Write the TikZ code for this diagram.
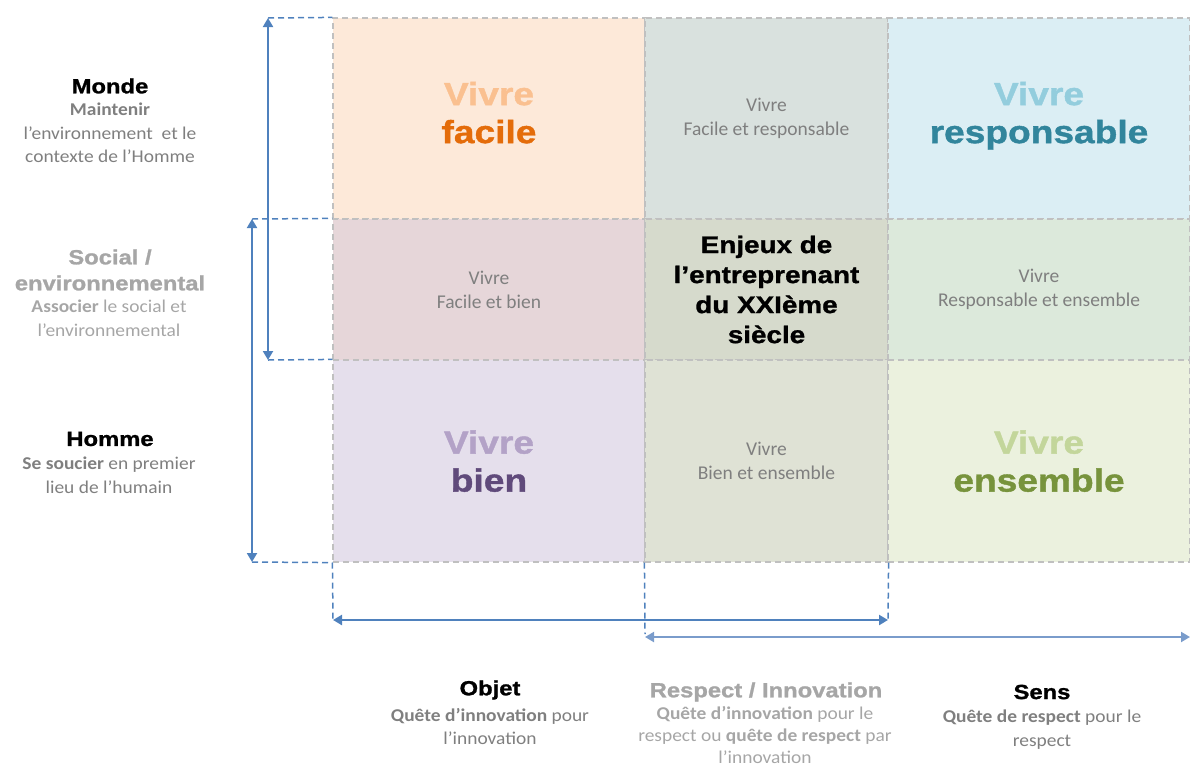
\documentclass[tikz,border=0pt]{standalone}
\usepackage{fontspec}
\setmainfont{Carlito}
\newfontfamily\heavyfont[FakeStretch=1.16, BoldFeatures={FakeBold=1.2}]{Liberation Sans}
\newfontfamily\descfont[FakeStretch=1.08]{Carlito}
\usetikzlibrary{arrows.meta,positioning}

\definecolor{axisblue}{HTML}{4F81BD}
\definecolor{axisbluelight}{HTML}{7A9CCB}
\definecolor{gridgray}{HTML}{C0C0C0}
\definecolor{txtgray}{HTML}{7F7F7F}
\definecolor{txtlight}{HTML}{A6A6A6}
% cell fills
\definecolor{facilefill}{HTML}{FDE9D9}
\definecolor{frfill}{HTML}{D9E1DE}
\definecolor{respfill}{HTML}{DBEEF4}
\definecolor{fbfill}{HTML}{E6D6D9}
\definecolor{enjeuxfill}{HTML}{D6DACC}
\definecolor{refill}{HTML}{DCE9DB}
\definecolor{bienfill}{HTML}{E5DFEC}
\definecolor{befill}{HTML}{DFE2D5}
\definecolor{ensfill}{HTML}{EBF1DE}
% big words
\definecolor{facilelight}{HTML}{FAC090}
\definecolor{faciledark}{HTML}{E46C0A}
\definecolor{resplight}{HTML}{93CDDD}
\definecolor{respdark}{HTML}{31859C}
\definecolor{bienlight}{HTML}{B3A2C7}
\definecolor{biendark}{HTML}{604A7B}
\definecolor{enslight}{HTML}{C3D69B}
\definecolor{ensdark}{HTML}{77933C}

\tikzset{
  cellbox/.style={draw=gridgray, line width=1.2pt, dash pattern=on 6pt off 4pt,
    inner sep=0pt, align=center, text=txtgray, font=\fontsize{19.5}{24}\selectfont},
  bigcell/.style={cellbox, text depth=12pt, font=\heavyfont\bfseries\fontsize{32}{38}\selectfont},
  headlabel/.style={inner sep=0pt, align=center, font=\heavyfont\bfseries\fontsize{20.5}{26}\selectfont},
  desclabel/.style={inner sep=0pt, align=center, anchor=north, font=\descfont\fontsize{18}{23.5}\selectfont},
  axisline/.style={axisblue, line width=2pt, {Triangle[length=9pt,width=10pt]}-{Triangle[length=9pt,width=10pt]}},
  guideline/.style={axisblue, line width=1.5pt, dash pattern=on 6pt off 4pt}
}

\begin{document}
\begin{tikzpicture}[x=1pt,y=-1pt]
\useasboundingbox (0,0) rectangle (1190,769);

% grid of cells
\node[bigcell, fill=facilefill, minimum width=312pt, minimum height=201pt] (c11) at (489,118.5)
  {\textcolor{facilelight}{Vivre}\\\textcolor{faciledark}{facile}};
\node[cellbox, fill=frfill, minimum width=243pt, minimum height=201pt] (c12) at (766.5,118.5)
  {Vivre\\Facile et responsable};
\node[bigcell, fill=respfill, minimum width=302pt, minimum height=201pt] (c13) at (1039,118.5)
  {\textcolor{resplight}{Vivre}\\\textcolor{respdark}{responsable}};
\node[cellbox, fill=fbfill, minimum width=312pt, minimum height=141pt] (c21) at (489,289.5)
  {Vivre\\Facile et bien};
\node[cellbox, fill=enjeuxfill, minimum width=243pt, minimum height=141pt, text=black,
  font=\heavyfont\bfseries\fontsize{24}{30}\selectfont] (c22) at (766.5,289.5)
  {Enjeux de\\l’entreprenant\\du XXIème\\siècle};
\node[cellbox, fill=refill, minimum width=302pt, minimum height=141pt] (c23) at (1039,289.5)
  {Vivre\\Responsable et ensemble};
\node[bigcell, text depth=0pt, fill=bienfill, minimum width=312pt, minimum height=202pt] (c31) at (489,461)
  {\textcolor{bienlight}{Vivre}\\\textcolor{biendark}{bien}};
\node[cellbox, fill=befill, minimum width=243pt, minimum height=202pt] (c32) at (766.5,461)
  {Vivre\\Bien et ensemble};
\node[bigcell, text depth=0pt, fill=ensfill, minimum width=302pt, minimum height=202pt] (c33) at (1039,461)
  {\textcolor{enslight}{Vivre}\\\textcolor{ensdark}{ensemble}};

% vertical axes
\coordinate (vtop) at (268,18);
\coordinate (vbot) at (268,360);
\coordinate (wtop) at (252,219);
\coordinate (wbot) at (252,562);
\draw[guideline] (vtop) -- (c11.north west);
\draw[guideline] (vbot) -- (c31.north west);
\draw[guideline] (wtop) -- (c21.north west);
\draw[guideline] (wbot) -- (c31.south west);
\draw[axisline] (vtop) -- (vbot);
\draw[axisline] (wtop) -- (wbot);

% horizontal axes
\coordinate (hleft) at (333,620);
\coordinate (hright) at (888,620);
\coordinate (kleft) at (645,637);
\coordinate (kright) at (1190,637);
\draw[guideline] (c31.south west) -- (hleft);
\draw[guideline] (c32.south east) -- (hright);
\draw[guideline] (c32.south west) -- ([yshift=3pt]kleft);
\draw[axisline, line width=2.6pt] (hleft) -- (hright);
\draw[axisline, axisbluelight] (kleft) -- (kright);

% row labels
\node[headlabel] (monde) at (110,86) {Monde};
\node[desclabel, text=txtgray] (mondetxt) at (110,103)
  {\textbf{Maintenir}\\l’environnement\ \ et le\\contexte de l’Homme};
\node[headlabel, text=txtlight] (social) at (110,270) {Social /\\environnemental};
\node[desclabel, text=txtlight] (socialtxt) at (109,300)
  {\textbf{Associer} le social et\\l’environnemental};
\node[headlabel] (homme) at (110,439) {Homme};
\node[desclabel, text=txtgray] (hommetxt) at (109,457)
  {\textbf{Se soucier} en premier\\lieu de l’humain};

% column labels
\node[headlabel] (objet) at (490,690) {Objet};
\node[desclabel, text=txtgray] (objettxt) at (490,708)
  {\textbf{Quête d’innovation} pour\\l’innovation};
\node[headlabel, text=txtlight] (respect) at (766,692) {Respect / Innovation};
\node[desclabel, text=txtlight, font=\descfont\fontsize{18}{22}\selectfont] (respecttxt) at (765,706)
  {\textbf{Quête d’innovation} pour le\\respect ou \textbf{quête de respect} par\\l’innovation};
\node[headlabel] (sens) at (1042,692) {Sens};
\node[desclabel, text=txtgray] (senstxt) at (1042,710)
  {\textbf{Quête de respect} pour le\\respect};
\end{tikzpicture}
\end{document}
